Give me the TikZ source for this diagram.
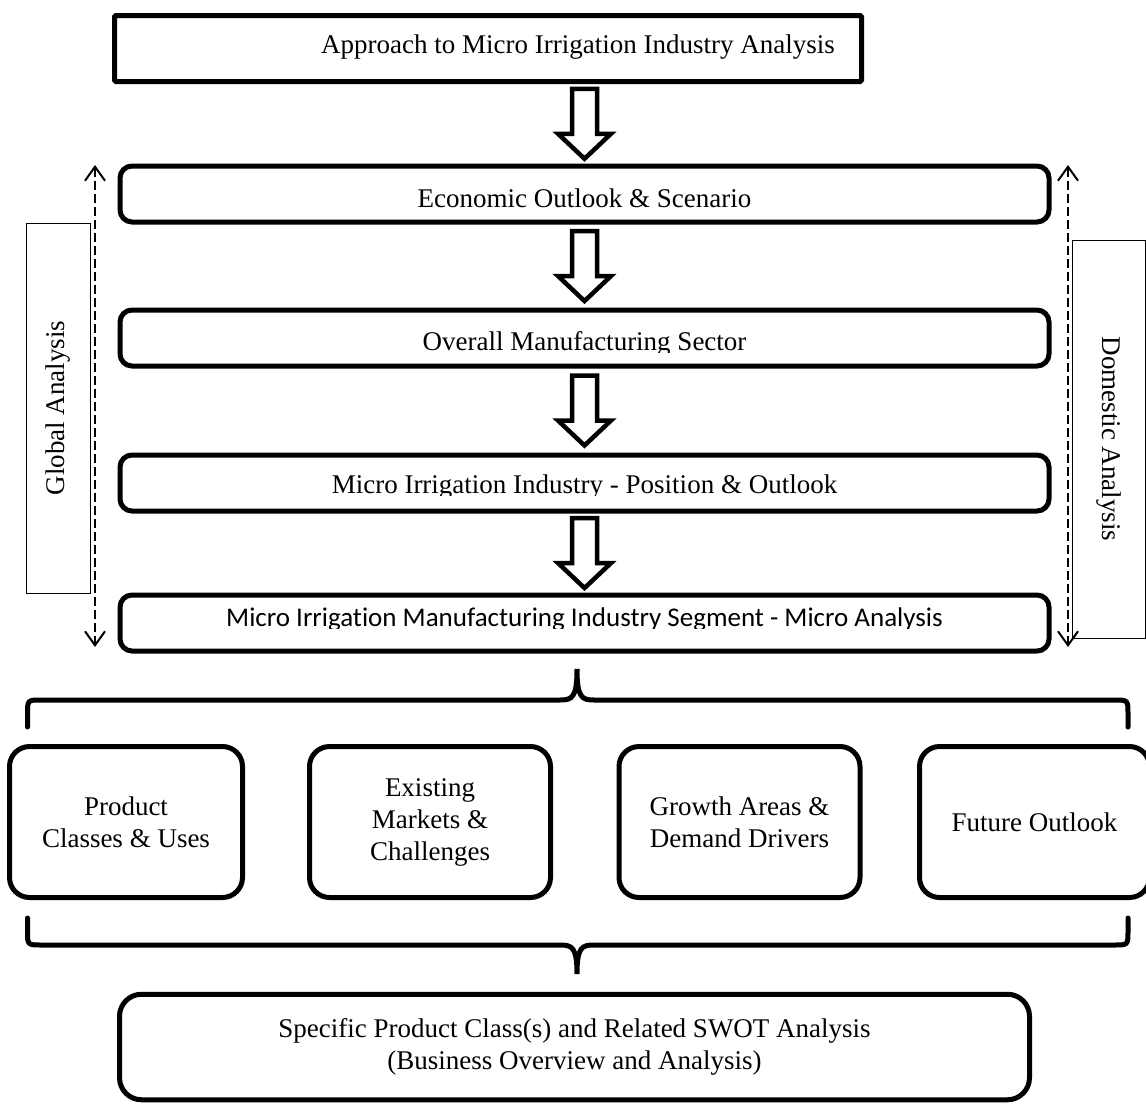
\documentclass[tikz,border=0pt]{standalone}
\usepackage{fontspec}
\setmainfont{Liberation Serif}
\newfontfamily\calibri[Ligatures=NoCommon]{Carlito}
\usetikzlibrary{arrows.meta,calc,positioning}
\tikzset{
  topbox/.style={draw,line width=5pt,rounded corners=1.5pt,minimum width=747pt,minimum height=66pt,inner sep=0pt},
  stagebox/.style={draw,line width=5pt,rounded corners=12pt,minimum width=929pt,minimum height=56pt,inner sep=0pt},
  sidebox/.style={draw,line width=1pt,inner sep=0pt},
  sidearrow/.style={{Straight Barb[length=14pt,width=20pt]}-{Straight Barb[length=14pt,width=20pt]},line width=2pt,dash pattern=on 9pt off 4pt},
  blockarrow/.style={draw,line width=4.5pt,fill=white,line join=miter},
  brace/.style={line width=5pt,line cap=round},
  itembox/.style={draw,line width=5pt,rounded corners=20pt,minimum height=151pt,inner sep=0pt,align=center},
  every node/.style={font=\fontsize{27}{32}\selectfont}
}
\newcommand\blockdown[1]{%
  \draw[blockarrow,shift={(#1)}] (-12.5,-35) -- (12.5,-35) -- (12.5,10) -- (26.5,10)
    -- (0,35) -- (-26.5,10) -- (-12.5,10) -- cycle;}

\begin{document}
\begin{tikzpicture}[x=1pt,y=-1pt]
\useasboundingbox (0,0) rectangle (1146,1106);

% main column
\node[topbox] (app) at (488,48.5) {};
\node[anchor=base] (apptxt) at (578,53) {Approach to Micro Irrigation Industry Analysis};

\node[stagebox] (econ) at (584.5,194) {};
\node[anchor=base] (econtxt) at ($(econ.center)+(0,13)$) {Economic Outlook \& Scenario};

\node[stagebox] (manu) at (584.5,338) {};
\begin{scope}
  \clip (manu.north west) rectangle ($(manu.east)+(0,14)$);
  \node[anchor=base] (manutxt) at ($(manu.center)+(0,12)$) {Overall Manufacturing Sector};
\end{scope}

\node[stagebox] (indu) at (584.5,483) {};
\begin{scope}
  \clip (indu.north west) rectangle ($(indu.east)+(0,12)$);
  \node[anchor=base] (indutxt) at ($(indu.center)+(0,10)$) {Micro Irrigation Industry - Position \& Outlook};
\end{scope}

\node[stagebox] (segm) at (584.5,623) {};
\begin{scope}
  \clip (segm.north west) rectangle ($(segm.east)+(0,5)$);
  \node[anchor=base,font=\calibri\fontsize{27}{32}\selectfont] (segmtxt) at ($(segm.center)+(0,3)$) {Micro Irrigation Manufacturing Industry Segment - Micro Analysis};
\end{scope}

\coordinate (ar1) at ($(app.south -| econ.north)!0.5!(econ.north)$);
\coordinate (ar2) at ($(econ.south)!0.5!(manu.north)$);
\coordinate (ar3) at ($(manu.south)!0.5!(indu.north)$);
\coordinate (ar4) at ($(indu.south)!0.5!(segm.north)$);
\blockdown{ar1}
\blockdown{ar2}
\blockdown{ar3}
\blockdown{ar4}

% side spans
\node[sidebox,rotate=90,minimum width=370pt,minimum height=64pt] (glob) at (58,408) {Global Analysis};
\node[sidebox,rotate=-90,minimum width=398pt,minimum height=73pt] (dom) at (1108.5,439) {Domestic Analysis};
\coordinate (gtop) at (95,165);
\coordinate (gbot) at (95,647);
\coordinate (dtop) at (1068,165);
\coordinate (dbot) at (1068,647);
\draw[sidearrow] (gtop) -- (gbot);
\draw[sidearrow] (dtop) -- (dbot);

% braces
\draw[brace] (27.5,727) -- (27.5,714) .. controls (27.5,700) .. (41.5,700) -- (560,700)
  .. controls (572,700) and (577,698) .. (577,669) .. controls (577,698) and (582,700) .. (594,700)
  -- (1114,700) .. controls (1128,700) .. (1128,714) -- (1128,727);
\draw[brace] (27.5,918) -- (27.5,931) .. controls (27.5,945) .. (41.5,945) -- (560,945)
  .. controls (572,945) and (577,947) .. (577,974) .. controls (577,947) and (582,945) .. (594,945)
  -- (1114,945) .. controls (1128,945) .. (1128,931) -- (1128,918);

% detail row
\node[itembox,minimum width=233pt] (prod) at (126,822) {Product\\Classes \& Uses};
\node[itembox,minimum width=241pt] (mark) at (430,822) {Existing\\Markets \&\\Challenges};
\node[itembox,minimum width=241pt] (grow) at (739.5,822) {Growth Areas \&\\Demand Drivers};
\node[itembox,minimum width=230pt] (futr) at (1034.5,822) {Future Outlook};

\node[itembox,rounded corners=22pt,minimum width=910pt,minimum height=105.5pt] (swot) at (574.5,1047)
  {Specific Product Class(s) and Related SWOT Analysis\\(Business Overview and Analysis)};
\end{tikzpicture}
\end{document}
